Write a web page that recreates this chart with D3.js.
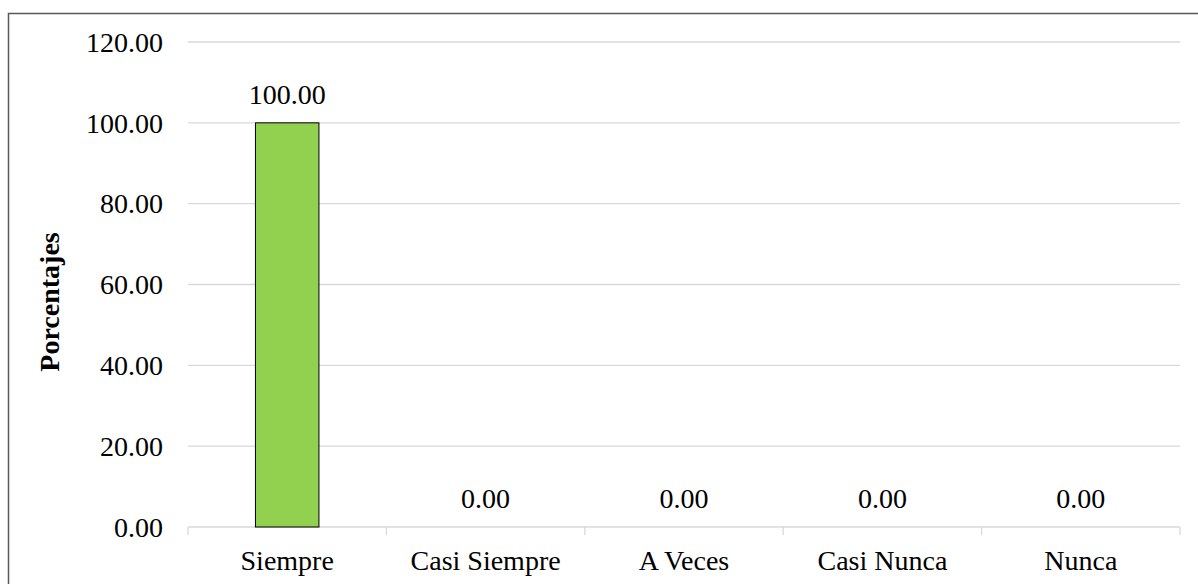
<!DOCTYPE html>
<html>
<head>
<meta charset="utf-8">
<script src="https://cdn.jsdelivr.net/npm/d3@7"></script>
<style>
  body { margin: 0; background: #fff; }
  svg { display: block; }
  text { font-family: 'Liberation Serif', 'Times New Roman', serif; fill: #000; }
</style>
</head>
<body>
<svg id="chart"></svg>
<script>
// data
var categories = ['Siempre', 'Casi Siempre', 'A Veces', 'Casi Nunca', 'Nunca'];
var values = [100, 0, 0, 0, 0];
var yTicks = [0, 20, 40, 60, 80, 100, 120];

var W = 1198, H = 584;
var margin = { top: 42, right: 18, bottom: 57, left: 188 },
    width  = W - margin.left - margin.right,
    height = H - margin.top - margin.bottom;

var svg = d3.select('#chart')
    .attr('width', W)
    .attr('height', H);

// outer frame (runs off the right and bottom edge)
svg.append('rect')
    .attr('x', 8.5).attr('y', 13.5)
    .attr('width', 1300).attr('height', 700)
    .attr('fill', 'none')
    .attr('stroke', '#595959')
    .attr('stroke-width', 1.5);

var g = svg.append('g')
    .attr('transform', 'translate(' + margin.left + ',' + margin.top + ')');

var x = d3.scaleBand()
    .domain(categories)
    .range([0, width])
    .padding(0);

var y = d3.scaleLinear()
    .domain([0, 120])
    .range([height, 0]);

var fmt = d3.format('.2f');

// gridlines
g.selectAll('.grid')
    .data(yTicks.filter(function(d){ return d > 0; }))
    .enter().append('line')
    .attr('x1', 0).attr('x2', width)
    .attr('y1', function(d){ return y(d); })
    .attr('y2', function(d){ return y(d); })
    .attr('stroke', '#d9d9d9')
    .attr('stroke-width', 1.3);

// y labels
g.selectAll('.ylab')
    .data(yTicks)
    .enter().append('text')
    .attr('x', -25)
    .attr('y', function(d){ return y(d); })
    .attr('dy', '0.35em')
    .attr('text-anchor', 'end')
    .style('font-size', '28px')
    .text(function(d){ return fmt(d); });

// x axis
var xAxis = g.append('g')
    .attr('transform', 'translate(0,' + height + ')');

xAxis.append('line')
    .attr('x1', 0).attr('x2', width)
    .attr('stroke', '#d9d9d9')
    .attr('stroke-width', 1.3);

var edges = categories.map(function(c){ return x(c); }).concat([width]);
xAxis.selectAll('.tick')
    .data(edges)
    .enter().append('line')
    .attr('x1', function(d){ return d; })
    .attr('x2', function(d){ return d; })
    .attr('y1', 0).attr('y2', 8)
    .attr('stroke', '#d9d9d9')
    .attr('stroke-width', 1.3);

xAxis.selectAll('.xlab')
    .data(categories)
    .enter().append('text')
    .attr('x', function(d){ return x(d) + x.bandwidth() / 2; })
    .attr('y', 43)
    .attr('text-anchor', 'middle')
    .style('font-size', '28px')
    .text(function(d){ return d; });

// bars
var barW = x.bandwidth() * 0.32;
g.selectAll('.bar')
    .data(values)
    .enter().append('rect')
    .attr('x', function(d, i){ return x(categories[i]) + (x.bandwidth() - barW) / 2; })
    .attr('y', function(d){ return y(d); })
    .attr('width', barW)
    .attr('height', function(d){ return height - y(d); })
    .attr('fill', '#92d050')
    .attr('stroke', function(d){ return d > 0 ? '#000' : 'none'; })
    .attr('stroke-width', 1);

// value labels
g.selectAll('.vlab')
    .data(values)
    .enter().append('text')
    .attr('x', function(d, i){ return x(categories[i]) + x.bandwidth() / 2; })
    .attr('y', function(d){ return y(d) - 19; })
    .attr('text-anchor', 'middle')
    .style('font-size', '28px')
    .text(function(d){ return fmt(d); });

// y title
svg.append('text')
    .attr('transform', 'translate(59,302) rotate(-90)')
    .attr('text-anchor', 'middle')
    .style('font-size', '28px')
    .style('font-weight', 'bold')
    .text('Porcentajes');
</script>
</body>
</html>
